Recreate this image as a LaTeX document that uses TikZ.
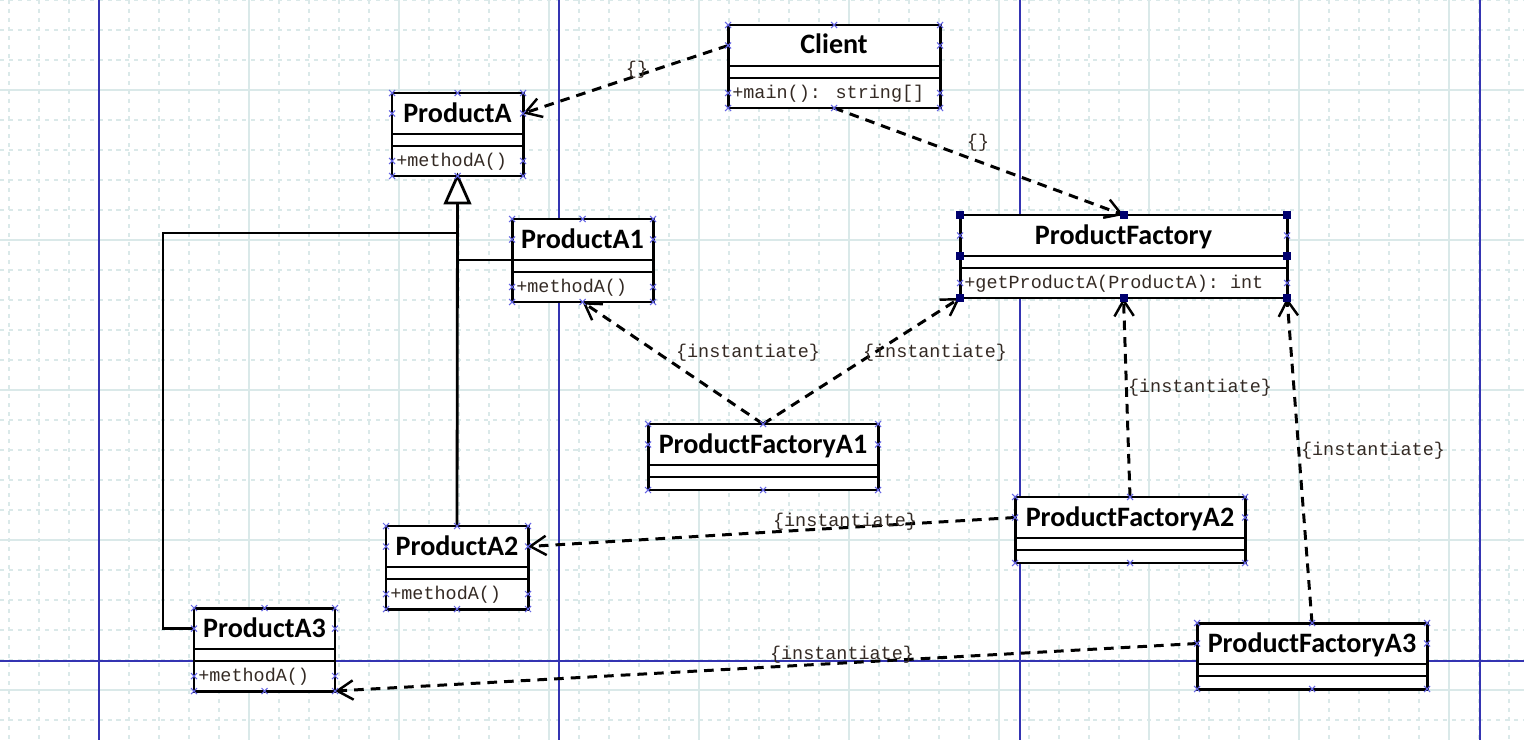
\documentclass[tikz,border=0pt]{standalone}
\usepackage{fontspec}
\usepackage{tikz}
\usetikzlibrary{arrows.meta}
\newfontfamily\titrefont{Carlito}
\newfontfamily\codefont{Liberation Mono}
\newcommand{\hent}{41}
\newcommand{\hatt}{12}
\newcommand{\hmet}{30}
\newcommand{\hvide}{13}
\definecolor{grille}{RGB}{218,233,233}
\definecolor{bleupage}{RGB}{52,52,178}
\definecolor{bleucroix}{RGB}{100,100,228}
\definecolor{bleusel}{RGB}{0,0,110}
\definecolor{texte}{RGB}{52,42,36}
\tikzstyle{boite}=[draw=black,fill=white,line width=1.7pt]
\tikzstyle{trait}=[line width=1.6pt]
\tikzstyle{dep}=[line width=1.7pt,dash pattern=on 5.5pt off 4pt,-{Straight Barb[length=9pt,width=11pt,line width=1.4pt]}]
\tikzstyle{titre}=[font=\titrefont\bfseries\fontsize{16pt}{19pt}\selectfont,inner sep=0pt,anchor=base]
\tikzstyle{methode}=[font=\codefont\fontsize{10.5pt}{12pt}\selectfont,text=texte,inner sep=0pt,anchor=base west]
\tikzstyle{etiq}=[font=\codefont\fontsize{10.5pt}{12pt}\selectfont,text=texte,inner sep=0pt]

\newcommand{\croix}[1]{\draw[bleucroix,line width=0.6pt] (#1) ++(-3,-3) -- ++(6,6) ++(-6,0) -- ++(6,-6);}

% id, x, y, largeur, titre, methode
\newcommand{\classe}[6]{%
\draw[boite] (#2,#3) rectangle ++(#4,\hent+\hatt+\hmet);
\draw[trait] (#2,#3+\hent) -- ++(#4,0);
\draw[trait] (#2,#3+\hent+\hatt) -- ++(#4,0);
\node[titre] (#1-t) at (#2+#4/2,#3+29) {#5};
\node[methode] (#1-m) at (#2+4,#3+\hent+\hatt+20) {#6};
\coordinate (#1-nw) at (#2,#3);
\coordinate (#1-n) at (#2+#4/2,#3);
\coordinate (#1-ne) at (#2+#4,#3);
\coordinate (#1-w) at (#2,#3+\hent/2);
\coordinate (#1-e) at (#2+#4,#3+\hent/2);
\coordinate (#1-hw) at (#2,#3+\hent);
\coordinate (#1-he) at (#2+#4,#3+\hent);
\coordinate (#1-mw) at (#2,#3+\hent+\hatt+\hmet/2);
\coordinate (#1-me) at (#2+#4,#3+\hent+\hatt+\hmet/2);
\coordinate (#1-sw) at (#2,#3+\hent+\hatt+\hmet);
\coordinate (#1-s) at (#2+#4/2,#3+\hent+\hatt+\hmet);
\coordinate (#1-se) at (#2+#4,#3+\hent+\hatt+\hmet);
}

% id, x, y, largeur, titre
\newcommand{\fabrique}[5]{%
\draw[boite] (#2,#3) rectangle ++(#4,\hent+\hatt+\hvide);
\draw[trait] (#2,#3+\hent) -- ++(#4,0);
\draw[trait] (#2,#3+\hent+\hatt) -- ++(#4,0);
\node[titre] (#1-t) at (#2+#4/2,#3+29) {#5};
\coordinate (#1-nw) at (#2,#3);
\coordinate (#1-n) at (#2+#4/2,#3);
\coordinate (#1-ne) at (#2+#4,#3);
\coordinate (#1-w) at (#2,#3+\hent/2);
\coordinate (#1-e) at (#2+#4,#3+\hent/2);
\coordinate (#1-sw) at (#2,#3+\hent+\hatt+\hvide);
\coordinate (#1-s) at (#2+#4/2,#3+\hent+\hatt+\hvide);
\coordinate (#1-se) at (#2+#4,#3+\hent+\hatt+\hvide);
}

\begin{document}
\begin{tikzpicture}[x=0.02cm,y=-0.02cm]

\useasboundingbox (0,0) rectangle (1524,740);
\fill[white] (0,0) rectangle (1524,740);

% grille
\foreach \x in {9,39,...,1509}
\draw[grille,line width=0.7pt,dash pattern=on 2.3pt off 2.8pt] (\x,0) -- (\x,740);
\foreach \y in {0,30,...,720}
\draw[grille,line width=0.7pt,dash pattern=on 2.3pt off 2.8pt] (0,\y) -- (1524,\y);
\foreach \x in {99,249,...,1449}
\draw[grille,line width=0.8pt] (\x,0) -- (\x,740);
\foreach \y in {90,240,...,690}
\draw[grille,line width=0.8pt] (0,\y) -- (1524,\y);

% limites de page
\foreach \x in {99,559,1020,1480}
\draw[bleupage,line width=0.9pt] (\x,0) -- (\x,740);
\draw[bleupage,line width=0.9pt] (0,661) -- (1524,661);

\classe{client}{728}{25}{212}{Client}{+main(): string[]}
\classe{pa}{392}{93}{131}{ProductA}{+methodA()}
\classe{pa1}{512}{219}{141}{ProductA1}{+methodA()}
\classe{pa2}{386}{526}{142}{ProductA2}{+methodA()}
\classe{pa3}{194}{608}{141}{ProductA3}{+methodA()}
\classe{pf}{960}{215}{327}{ProductFactory}{+getProductA(ProductA): int}
\fabrique{pfa1}{648}{424}{230}{ProductFactoryA1}
\fabrique{pfa2}{1015}{497}{230}{ProductFactoryA2}
\fabrique{pfa3}{1197}{623}{230}{ProductFactoryA3}

% heritage
\draw[trait,fill=white] (pa-s) -- ++(-12,27) -- ++(24,0) -- cycle;
\path (pa-s) ++(0,27) coordinate (pa-base);
\coordinate (coude) at (163,233);
\draw[trait] (pa-base) -- (pa2-n);
\draw[trait] (coude -| pa-base) -- (coude) |- (pa3-w);
\draw[trait] (pa1-hw -| pa-base) -- (pa1-hw);

% dependances
\draw[dep] (client-w) -- (pa-e);
\draw[dep] (client-s) -- (pf-n);
\draw[dep] (pfa1-n) -- (pa1-s);
\draw[dep] (pfa1-n) -- (pf-sw);
\draw[dep] (pfa2-n) -- (pf-s);
\draw[dep] (pfa3-n) -- (pf-se);
\draw[dep] (pfa2-w) -- (pa2-e);
\draw[dep] (pfa3-w) -- (pa3-se);

\node[etiq] (e1) at (637,70) {\{\}};
\node[etiq] (e2) at (978,143) {\{\}};
\node[etiq] (e3) at (748,353) {\{instantiate\}};
\node[etiq] (e4) at (935,353) {\{instantiate\}};
\node[etiq] (e5) at (1200,388) {\{instantiate\}};
\node[etiq] (e6) at (1373,451) {\{instantiate\}};
\node[etiq] (e7) at (845,522) {\{instantiate\}};
\node[etiq] (e8) at (842,655) {\{instantiate\}};

% points d'ancrage
\foreach \c in {client,pa,pa1,pa2,pa3}
\foreach \p in {nw,n,ne,w,e,mw,me,sw,s,se}
\croix{\c-\p};
\foreach \c in {pfa1,pfa2,pfa3}
\foreach \p in {nw,n,ne,w,e,sw,s,se}
\croix{\c-\p};
\foreach \p in {w,e,mw,me}
\croix{pf-\p};
\foreach \p in {nw,n,ne,hw,he,sw,s,se}
\fill[bleusel] (pf-\p) ++(-4,-4) rectangle ++(8,8);

\end{tikzpicture}
\end{document}
